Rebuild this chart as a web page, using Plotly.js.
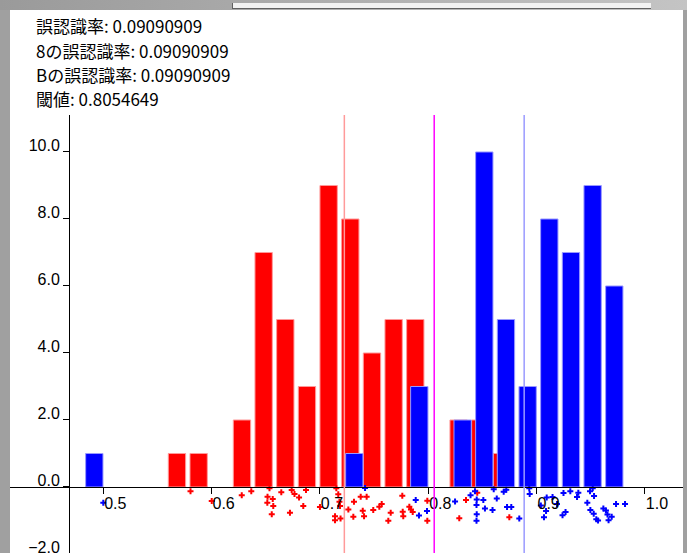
<!DOCTYPE html>
<html>
<head>
<meta charset="utf-8">
<script src="https://cdn.plot.ly/plotly-3.0.1.min.js"></script>
<style>
  html, body { margin: 0; padding: 0; width: 687px; height: 553px; overflow: hidden; background: #a0a0a0; }
  #topband { position: absolute; left: 0; top: 0; width: 687px; height: 10px; background: linear-gradient(to right, #9a9a9a, #c4c4c4); }
  #topline { position: absolute; left: 232px; top: 3px; width: 418px; height: 5px; background: #f2f2f2; border-left: 1px solid #606060; border-bottom: 1px solid #606060; }
  #plot { position: absolute; left: 10px; top: 10px; width: 673px; height: 545px; background: #fff; }
</style>
</head>
<body>
<div id="topband"></div>
<div id="topline"></div>
<div id="plot"></div>
<script>
// Histogram of class "8" (red) and class "B" (blue)
const redBinCenters = [0.568, 0.588, 0.628, 0.648, 0.668, 0.688, 0.708, 0.728, 0.748, 0.768, 0.788, 0.828, 0.848, 0.868];
const redCounts     = [1, 1, 2, 7, 5, 3, 9, 8, 4, 5, 5, 2, 2, 1];
const blueBinCenters = [0.4917, 0.7317, 0.7917, 0.8317, 0.8517, 0.8717, 0.8917, 0.9117, 0.9317, 0.9517, 0.9717];
const blueCounts     = [1, 1, 3, 2, 10, 5, 3, 8, 7, 9, 6];
const binWidth = 0.016;

// individual samples (value, jitter)
const redSampleX = [0.5805, 0.6001, 0.6278, 0.6366, 0.6534, 0.6516, 0.6564, 0.6514, 0.6569, 0.6555,
  0.6643, 0.6723, 0.6739, 0.6765, 0.6807, 0.6846, 0.6871, 0.7000, 0.7151, 0.7169,
  0.7180, 0.7185, 0.7139, 0.7139, 0.7190, 0.7262, 0.7308, 0.7314, 0.7376, 0.7431,
  0.7395, 0.7407, 0.7492, 0.7548, 0.7570, 0.7631, 0.7653, 0.7760, 0.7764, 0.7769,
  0.7825, 0.7840, 0.7856, 0.7991, 0.7991, 0.8286, 0.8348, 0.8452, 0.8748];
const redSampleY = [-0.13, -0.42, -0.25, -0.13, -0.04, -0.29, -0.36, -0.47, -0.57, -0.81,
  -0.16, -0.77, -0.09, -0.21, -0.31, -0.57, -0.09, -0.60, -0.04, -0.22,
  -0.44, -0.57, -0.87, -0.99, -0.94, -0.67, -0.89, -0.44, -0.29, -0.29,
  -0.71, -0.87, -0.69, -0.59, -0.51, -1.01, -0.77, -0.26, -0.74, -0.87,
  -0.59, -0.67, -0.75, -0.41, -1.01, -0.93, -0.39, -0.17, -0.90];
const blueSampleX = [0.5000, 0.7416, 0.7884, 0.7914, 0.7988, 0.8247, 0.8390, 0.8431, 0.8447, 0.8508,
  0.8445, 0.8447, 0.8445, 0.8523, 0.8593, 0.8604, 0.8632, 0.8696, 0.8720, 0.8727,
  0.8766, 0.8840, 0.8932, 0.8936, 0.9039, 0.9068, 0.9087, 0.9093, 0.9147, 0.9188,
  0.9248, 0.9311, 0.9239, 0.9267, 0.9385, 0.9373, 0.9468, 0.9493, 0.9518, 0.9530,
  0.9496, 0.9527, 0.9551, 0.9567, 0.9616, 0.9640, 0.9654, 0.9664, 0.9693, 0.9733, 0.9816];
const blueSampleY = [-0.47, -0.03, -0.39, -0.85, -0.72, -0.43, -0.25, -0.13, -0.37, -0.39,
  -0.54, -0.81, -1.01, -0.64, -0.69, -0.07, -0.34, -0.14, -0.08, -0.60,
  -0.60, -0.94, -0.04, -0.21, -0.55, -0.90, -0.72, -0.31, -0.30, -0.51,
  -0.18, -0.13, -0.84, -0.75, -0.17, -0.30, -0.47, -0.13, -0.04, -0.27,
  -0.69, -0.80, -0.96, -1.00, -0.64, -0.70, -0.82, -0.99, -0.89, -0.51, -0.51];

// reference lines: mean of "8", threshold, mean of "B"
const redMean = 0.7225;
const threshold = 0.8054649;
const blueMean = 0.8885;

const infoLines = [
  "誤認識率: 0.09090909",
  "8の誤認識率: 0.09090909",
  "Bの誤認識率: 0.09090909",
  "閾値: 0.8054649"
];

const xTicks = [0.5, 0.6, 0.7, 0.8, 0.9, 1.0];
const yTicks = [-2, 0, 2, 4, 6, 8, 10];

const traces = [
  { type: 'bar', x: redBinCenters, y: redCounts, width: binWidth,
    marker: { color: '#ff0000', line: { color: '#ff9a9a', width: 1 } }, hoverinfo: 'skip' },
  { type: 'bar', x: blueBinCenters, y: blueCounts, width: binWidth,
    marker: { color: '#0000ff', line: { color: '#9a9aff', width: 1 } }, hoverinfo: 'skip' },
  { type: 'scatter', mode: 'markers', x: redSampleX, y: redSampleY,
    marker: { symbol: 'cross', size: 5, color: '#ff0000' }, hoverinfo: 'skip' },
  { type: 'scatter', mode: 'markers', x: blueSampleX, y: blueSampleY,
    marker: { symbol: 'cross', size: 5, color: '#0000ff' }, hoverinfo: 'skip' }
];

const vlines = [
  { v: redMean, c: '#ff9a9a' },
  { v: threshold, c: '#ff00ff' },
  { v: blueMean, c: '#9a9aff' }
];

const layout = {
  width: 673, height: 545,
  margin: { l: 0, r: 0, t: 105, b: 0, pad: 0 },
  paper_bgcolor: '#ffffff', plot_bgcolor: '#ffffff',
  showlegend: false,
  barmode: 'overlay',
  font: { family: 'Liberation Sans, Arial, sans-serif', size: 16, color: '#000' },
  xaxis: {
    range: [0.41387, 1.03512], anchor: 'free', position: 0.15455,
    showline: true, linecolor: '#000', linewidth: 1,
    showgrid: false, zeroline: false,
    tickmode: 'array', tickvals: xTicks, tickformat: '.1f',
    ticks: 'outside', ticklen: 6, tickcolor: '#000', tickwidth: 1,
    ticklabelshift: 12, ticklabelstandoff: -4,
    tickfont: { size: 16, color: '#000' }
  },
  yaxis: {
    range: [-2.030, 11.104], anchor: 'free', position: 0.08767,
    showline: true, linecolor: '#000', linewidth: 1,
    showgrid: false, zeroline: false,
    tickmode: 'array', tickvals: yTicks, tickformat: '.1f',
    ticks: 'outside', ticklen: 6, tickcolor: '#000', tickwidth: 1,
    ticklabelshift: -7, ticklabeloverflow: 'allow',
    tickfont: { size: 16, color: '#000' }
  },
  shapes: vlines.map(l => ({
    type: 'line', xref: 'x', yref: 'paper', x0: l.v, x1: l.v, y0: 0, y1: 1,
    line: { color: l.c, width: 1.5 }, layer: 'above'
  })),
  annotations: infoLines.map((t, i) => ({
    text: t, xref: 'paper', yref: 'paper', x: 0.0357,
    y: [1.2045, 1.1477, 1.0920, 1.0386][i],
    xanchor: 'left', yanchor: 'middle', showarrow: false,
    font: { family: 'Noto Sans CJK JP, sans-serif', size: 17, color: '#000' }
  }))
};

Plotly.newPlot('plot', traces, layout, { displayModeBar: false, staticPlot: true });
</script>
</body>
</html>
